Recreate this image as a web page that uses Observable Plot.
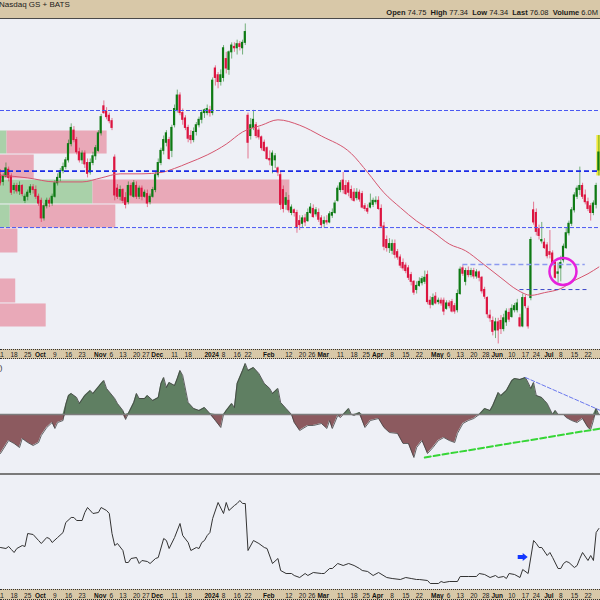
<!DOCTYPE html>
<html>
<head>
<meta charset="utf-8">
<script src="https://cdn.jsdelivr.net/npm/d3@7"></script>
<script src="https://cdn.jsdelivr.net/npm/@observablehq/plot@0.6"></script>
<style>
  html, body { margin:0; padding:0; }
  body { width:600px; height:600px; overflow:hidden; background:#eef0f6; font-family:"Liberation Sans", Arial, sans-serif; }
  #hdr { position:relative; height:18px; background:#d8c8a8; border-bottom:1px solid #4a4a4a; font-size:8px; color:#1a1a1a; overflow:hidden; }
  #hdr .l { position:absolute; left:-1px; top:0px; white-space:nowrap; }
  #hdr .r { position:absolute; right:2px; top:8px; white-space:nowrap; font-size:7.5px; }
  #hdr b { font-weight:bold; }
  .strip { background:#d8c8a8; border-top:1px dotted #333; border-bottom:1px dotted #333; overflow:hidden; }
  #axis1 { height:8px; }
  #axis2 { height:9px; }
  .sep { height:0; border-top:2px solid #7a7a7a; }
  svg { display:block; }
</style>
</head>
<body>
<div id="hdr"><span class="l">Nasdaq GS + BATS</span><span class="r" id="ohlc"></span></div>
<div id="price"></div>
<div class="strip" id="axis1"></div>
<div id="cmf"></div>
<div class="sep"></div>
<div id="bottom"></div>
<div class="strip" id="axis2"></div>
<script>
// ---------------- DATA ----------------
const exchange = "Nasdaq GS + BATS";
const lastVolume = "6.0M";
const startDate = "2023-09-11";
const endDate = "2024-07-26";
const holidays = ["2023-11-23","2023-12-25","2024-01-01","2024-01-15","2024-02-19","2024-03-29","2024-05-27","2024-06-19","2024-07-04"];
const monthNames = ["Jan","Feb","Mar","Apr","May","Jun","Jul","Aug","Sep","Oct","Nov","Dec"];

const opens = [74.4,73.9,74.3,74.8,74.3,73.3,73.6,73.2,73.6,72.5,72.8,73.1,73.5,73.3,72.8,72.5,71.2,72.1,72.5,72.3,
72.8,73.8,74.2,74.7,75.0,75.5,76.7,77.7,77.0,76.1,75.5,76.0,75.3,74.6,75.3,75.8,76.2,77.5,79.5,79.1,
78.8,78.4,75.7,73.4,72.8,73.3,72.7,72.4,73.6,72.8,73.6,72.8,73.4,72.8,73.0,72.4,72.8,73.3,74.4,75.3,
76.2,76.8,77.0,76.2,78.1,79.2,80.3,79.0,78.6,77.9,77.3,77.0,77.6,78.1,78.5,79.0,79.0,79.2,79.0,82.3,
81.8,81.3,81.6,83.0,82.2,83.5,83.9,83.8,84.1,83.8,84.2,78.8,77.3,77.9,78.1,77.7,77.2,76.8,76.4,75.6,
75.1,75.5,74.9,74.4,73.3,72.2,72.5,71.6,71.8,71.6,71.0,70.8,71.2,71.0,71.6,71.9,71.5,71.6,71.2,70.8,
71.0,70.9,71.4,71.6,72.5,73.3,74.0,73.6,73.8,73.3,73.1,72.7,73.1,73.0,72.1,71.9,72.0,72.2,72.4,72.5,
71.9,70.6,69.6,69.0,68.8,69.3,68.7,68.3,67.9,67.7,67.5,67.0,66.5,65.9,66.2,66.4,66.5,67.0,65.1,64.8,
65.4,65.0,65.1,65.1,64.5,64.9,65.0,64.7,64.4,65.6,67.5,66.5,67.3,67.0,67.3,66.9,67.2,66.8,65.9,65.3,
64.0,63.6,62.9,63.5,63.6,63.0,63.5,64.2,63.9,64.4,64.4,63.8,63.2,65.3,64.5,65.3,71.8,71.6,70.4,69.5,
69.4,69.2,68.7,68.6,67.9,67.1,67.5,68.1,69.0,70.1,70.8,71.8,72.8,73.3,73.6,72.9,72.4,72.1,71.6,72.2,
74.75];
const highs = [74.8,74.5,75.3,75.0,74.5,73.8,73.8,73.9,73.7,73.0,73.3,73.7,73.7,73.6,73.0,72.7,72.3,72.7,72.7,73.0,
74.0,74.5,74.9,75.3,75.7,77.0,78.2,78.0,77.2,76.4,76.2,76.2,75.6,75.6,76.1,76.6,77.7,78.9,79.9,79.4,
79.0,78.6,75.9,73.7,73.6,73.4,73.1,73.9,73.8,74.0,73.9,73.6,73.6,73.3,73.3,73.0,73.5,74.6,75.6,76.4,
77.3,77.7,77.2,78.1,79.6,80.7,80.5,79.3,78.8,78.1,77.7,77.9,78.3,78.7,79.2,79.3,79.6,79.5,81.6,82.5,
82.0,82.2,84.0,83.5,83.6,84.2,84.2,84.4,84.3,84.4,85.6,79.0,78.6,79.2,78.3,77.9,77.3,77.0,76.5,76.2,
76.2,76.0,75.0,74.6,73.6,73.1,72.9,72.2,71.9,71.8,71.4,71.4,71.5,71.9,72.3,72.2,72.0,71.9,71.4,71.3,
71.4,71.7,71.9,72.5,73.6,74.0,74.6,74.0,74.0,73.6,73.4,73.4,73.3,73.2,72.3,72.2,73.0,72.7,72.8,72.8,
72.2,70.9,69.9,69.7,69.6,69.6,68.9,68.5,68.2,67.9,67.7,67.2,66.6,66.5,66.8,66.9,67.3,67.3,65.4,65.6,
65.7,65.3,65.3,65.3,65.1,65.1,65.2,64.9,65.9,67.6,67.7,67.5,67.6,67.5,67.5,67.4,67.3,66.9,66.1,65.4,
64.4,63.9,63.8,63.8,64.0,64.1,64.5,64.5,64.8,64.9,65.2,64.1,65.6,65.5,64.7,69.8,72.4,71.9,70.7,70.9,
69.7,69.4,70.3,68.8,68.1,67.9,68.4,69.3,70.5,71.0,72.0,73.1,73.6,75.0,73.8,73.3,72.7,72.3,72.5,73.8,
77.34];
const lows = [73.6,73.6,74.2,73.9,72.9,73.0,73.0,72.9,72.8,72.3,72.5,72.9,73.0,72.6,72.1,70.9,71.0,71.9,72.0,72.1,
72.7,73.6,73.9,74.5,74.8,75.3,76.5,76.8,75.9,75.3,75.2,74.9,74.2,74.4,75.1,75.5,76.1,77.3,78.9,78.5,
78.2,77.7,72.5,72.6,72.5,72.3,71.9,72.2,72.8,72.7,72.6,72.6,72.5,72.7,72.0,72.2,72.7,73.1,74.2,75.1,
75.9,76.5,75.5,75.7,77.9,79.0,78.8,78.1,77.7,76.8,76.7,76.8,77.3,77.9,78.2,78.6,78.8,78.7,78.8,81.0,
80.8,81.0,81.3,81.9,81.8,83.0,83.5,83.3,83.6,83.3,84.0,75.6,77.0,77.7,77.1,77.0,76.2,76.1,75.5,75.1,
74.5,74.9,74.3,71.8,71.6,71.8,71.6,71.4,71.3,70.1,70.3,70.5,70.6,70.9,71.5,71.2,71.3,70.9,70.5,70.5,
70.7,70.8,71.2,71.5,72.4,73.1,73.0,72.9,72.8,72.5,72.4,72.5,72.4,71.9,71.7,71.5,71.9,72.0,72.2,71.8,
70.5,68.8,68.7,68.6,68.5,68.2,68.1,67.5,67.3,67.1,66.6,66.2,65.5,65.6,66.1,66.2,66.3,64.8,64.5,64.7,
64.8,64.8,64.7,64.0,64.4,64.5,64.2,64.1,64.2,65.5,66.9,66.2,66.8,66.8,66.7,66.7,66.5,65.6,65.2,63.8,
63.5,62.5,62.3,61.9,62.6,62.8,63.2,63.5,63.8,64.2,64.2,63.1,63.1,64.5,63.0,65.1,70.7,69.9,69.6,69.3,
68.9,68.2,68.2,67.7,66.7,66.4,66.5,67.9,68.9,69.9,70.6,71.6,72.6,72.9,72.6,72.2,71.7,71.0,71.4,71.9,
74.34];
const closes = [73.8,74.3,74.9,74.2,73.1,73.6,73.2,73.6,73.0,72.8,73.1,73.5,73.3,72.8,72.3,71.2,72.1,72.5,72.3,72.8,
73.8,74.2,74.7,75.0,75.5,76.7,77.9,77.0,76.1,75.5,76.0,75.2,74.5,75.3,75.8,76.4,77.5,78.7,79.0,78.7,
78.4,77.9,72.9,72.8,73.3,72.5,72.2,73.6,72.9,73.8,72.8,73.4,72.8,73.1,72.3,72.8,73.3,74.4,75.3,76.2,
77.0,77.5,75.6,77.9,79.3,80.3,79.0,78.5,77.9,77.1,77.0,77.6,78.1,78.5,79.0,79.2,79.3,79.0,81.4,81.6,
81.3,81.8,83.8,82.3,83.5,84.0,83.8,84.1,83.9,84.2,85.0,76.8,78.1,78.5,77.3,77.2,76.4,76.2,75.6,75.5,
76.0,75.8,74.6,72.2,71.9,72.7,71.8,72.0,71.6,70.5,70.7,71.2,70.9,71.6,72.0,71.3,71.8,71.1,70.7,71.0,
70.9,71.5,71.6,72.3,73.4,73.8,73.3,73.0,73.1,72.7,72.5,73.1,72.6,72.0,71.9,71.7,72.3,72.5,72.5,71.9,
70.6,69.1,69.0,69.3,69.3,68.5,68.3,67.7,67.5,67.3,66.8,66.5,65.7,66.2,66.5,66.7,66.8,65.0,64.8,65.3,
64.9,65.1,64.9,64.3,64.9,64.7,64.3,64.3,65.6,67.4,67.1,67.3,67.0,67.3,66.9,67.2,66.8,65.8,65.4,64.1,
63.8,62.8,63.5,62.9,63.0,63.8,64.3,63.7,64.5,64.7,64.9,63.2,65.3,64.7,63.2,69.6,70.9,70.2,69.9,69.6,
69.0,68.4,68.5,67.9,66.8,67.2,67.9,69.1,70.1,70.8,71.8,72.9,73.4,73.6,72.8,72.4,71.9,71.6,72.3,73.6,
76.08];

// moving average (sampled trading-day index / value)
const maIdx = [0,10,20,30,37,44,52,59,64,69,76,83,89,96,102,110,118,129,135,141,147,153,159,165,171,177,184,190,195,200,206,211,216,220];
const maVal = [74.4,74.2,73.9,73.9,74.2,74.5,74.5,74.6,74.9,75.3,75.9,76.7,77.6,78.1,78.5,78.1,77.3,76.0,74.6,73.1,72.0,71.0,70.2,69.3,68.8,67.9,66.8,65.9,65.5,65.7,66.0,66.6,67.1,67.6];

// volume-by-price zones
const vbpLow  = [63.12,64.90,66.75,68.60,70.45,72.23,74.08,75.93,77.71];
const vbpHigh = [64.90,66.75,68.60,70.45,72.23,74.08,75.93,77.71,79.56];
const vbpUp   = [46,28,22,28,59,135,37,56,20];
const vbpDown = [46,36,24,38,97,181,44,92,25];

// annotation levels
const levelPrice = [79.19,74.70,70.52,67.78,65.93];
const levelFrom  = [0,0,0,170,191];
const levelTo    = [220.6,220.6,220.6,215,216];
const circleAt   = {i: 206.8, p: 67.27};

// money-flow style oscillator
const cmfIdx = [0,3,5,7,8,10,12,14,15,17,19,20,21,23,24,25,26,28,29,31,33,34,37,38,39,42,43,45,46,47,49,50,51,53,54,56,58,59,60,61,62,64,65,66,67,69,71,73,75,77,79,81,82,83,85,86,87,89,90,91,93,95,97,99,100,102,103,105,107,108,110,113,115,118,120,121,122,124,125,126,128,129,130,132,133,134,136,139,141,143,146,148,150,152,153,155,157,159,161,163,165,167,168,170,172,174,176,178,180,181,183,184,186,188,189,191,193,194,195,196,197,199,200,201,203,204,205,207,208,210,212,214,216,217,218,219,220];
const cmfVal = [-0.195,-0.13,-0.145,-0.165,-0.12,-0.14,-0.155,-0.14,-0.105,-0.065,-0.04,-0.07,-0.04,-0.03,0.05,0.095,0.105,0.085,0.055,0.095,0.12,0.105,0.155,0.17,0.13,0.08,0.055,0.02,-0.025,0.005,0.06,0.105,0.08,0.08,0.095,0.07,0.085,0.155,0.185,0.135,0.16,0.145,0.18,0.22,0.195,0.06,0.03,0.02,0.035,0.005,-0.03,-0.065,0,0.02,0.055,0.035,0.155,0.22,0.255,0.22,0.235,0.205,0.155,0.13,0.105,0.13,0.06,0.03,0,-0.04,-0.08,-0.055,-0.055,-0.045,-0.07,-0.03,-0.07,-0.005,-0.015,0,0.03,0,-0.005,0.01,-0.03,-0.065,-0.03,-0.02,-0.065,-0.09,-0.095,-0.145,-0.145,-0.215,-0.165,-0.13,-0.195,-0.165,-0.13,-0.115,-0.13,-0.14,-0.095,-0.045,-0.03,-0.02,0,0.03,0.02,0.045,0.11,0.095,0.12,0.17,0.18,0.175,0.185,0.16,0.13,0.16,0.095,0.085,0.07,0.055,0,0.02,0,0,-0.015,-0.03,-0.04,-0.02,-0.065,-0.075,-0.03,0.03,0];
const cmfDownTrend = {i: [193,220.6], v: [0.185,0.02]};
const cmfUpTrend   = {i: [156,220.6], v: [-0.215,-0.07]};

// lower line indicator
const botIdx = [0,2,3,4,5,6,8,9,10,12,14,15,17,18,19,21,23,24,26,27,28,30,31,32,34,36,37,39,40,41,42,43,45,46,47,48,50,51,52,54,55,57,58,60,61,62,64,66,67,69,70,72,73,74,75,76,77,78,80,82,83,84,86,87,88,89,90,91,93,95,97,98,100,102,103,105,107,108,110,112,113,115,118,119,121,122,124,126,128,130,132,133,135,137,139,142,144,147,149,151,153,154,157,158,161,162,163,165,168,169,172,175,176,178,180,182,183,185,186,187,189,191,192,194,196,197,198,199,201,202,203,205,206,207,208,209,211,212,213,214,216,217,218,219,220];
const botVal = [0.82,0.80,0.84,0.78,0.72,0.80,0.86,0.84,1.10,1.08,0.96,0.90,1.02,1.00,0.92,1.02,1.12,1.32,1.42,1.42,1.36,1.36,1.52,1.62,1.50,1.52,1.62,1.56,1.50,1.10,0.86,0.90,0.76,0.52,0.52,0.60,0.62,0.50,0.56,0.54,0.50,0.60,0.62,1.00,0.96,0.80,1.02,1.30,1.06,0.92,0.76,0.82,0.80,0.92,0.96,1.06,1.12,1.40,1.72,1.50,1.72,1.56,1.66,1.70,1.76,1.70,1.70,0.76,0.96,0.90,0.82,0.80,0.50,0.60,0.36,0.30,0.30,0.26,0.22,0.30,0.26,0.32,0.30,0.30,0.40,0.40,0.50,0.46,0.50,0.46,0.40,0.36,0.34,0.26,0.32,0.22,0.20,0.18,0.22,0.20,0.18,0.18,0.16,0.10,0.10,0.14,0.12,0.14,0.14,0.24,0.24,0.24,0.30,0.28,0.22,0.26,0.22,0.24,0.20,0.30,0.28,0.22,0.38,0.30,0.96,0.90,0.82,0.82,0.66,0.72,0.62,0.40,0.40,0.50,0.54,0.52,0.42,0.46,0.60,0.72,0.56,0.66,0.56,1.12,1.20];
const arrowAt = {i: 192, v: 0.63};

// ---------------- BUILD ----------------
const UP = "#0e7a14", DOWN = "#dc1440";
const FONT = "Liberation Sans, Arial, sans-serif";
const xDomain = [0, 220.6];

// trading calendar
const dates = [];
for (let d = new Date(startDate + "T12:00:00Z"); d <= new Date(endDate + "T12:00:00Z"); d.setUTCDate(d.getUTCDate() + 1)) {
  const wd = d.getUTCDay(), s = d.toISOString().slice(0, 10);
  if (wd === 0 || wd === 6 || holidays.includes(s)) continue;
  dates.push(new Date(d));
}
// month label positions first
const monthTicks = [];
dates.forEach((d, i) => {
  if (i > 0 && d.getUTCMonth() !== dates[i - 1].getUTCMonth())
    monthTicks.push({i, label: d.getUTCMonth() === 0 ? String(d.getUTCFullYear()) : monthNames[d.getUTCMonth()], bold: true, dx: -1});
});
const dayTicks = [];
dates.forEach((d, i) => {
  const newWeek = i === 0 || d.getUTCDay() < dates[i - 1].getUTCDay();
  if (!newWeek || monthTicks.some(m => m.i === i)) return;
  const prevM = monthTicks.filter(m => m.i < i).at(-1);
  const nextM = monthTicks.find(m => m.i > i);
  if (prevM && i - prevM.i < 3) return;
  if (nextM) {
    const gap = nextM.i - i;
    if (gap <= 3 || (gap <= 4 && nextM.label.length === 4)) return;
  }
  let dx = 0;
  if (prevM && i - prevM.i === 3) dx = 2;
  if (nextM && nextM.i - i === 4) dx = -1.5;
  dayTicks.push({i, label: String(d.getUTCDate()), bold: false, dx});
});
const ticks = [...monthTicks, ...dayTicks];

document.getElementById("ohlc").innerHTML =
  `<b>Open</b> ${opens.at(-1).toFixed(2)} &nbsp;<b>High</b> ${highs.at(-1).toFixed(2)} &nbsp;<b>Low</b> ${lows.at(-1).toFixed(2)} &nbsp;<b>Last</b> ${closes.at(-1).toFixed(2)} &nbsp;<b>Volume</b> ${lastVolume}`;
document.querySelector("#hdr .l").textContent = exchange;

const candles = opens.map((o, i) => ({i, o, h: highs[i], l: lows[i], c: closes[i]}));
const upC = candles.filter(d => d.c >= d.o);
const dnC = candles.filter(d => d.c < d.o);
const ma = maIdx.map((i, k) => ({i, v: maVal[k]}));
const vbpStart = -20, vbpScale = 0.4;
const vbp = vbpLow.map((lo, k) => ({lo, hi: vbpHigh[k], up: vbpUp[k], dn: vbpDown[k]}));
const levels = levelPrice.map((p, k) => ({p, a: levelFrom[k], b: levelTo[k]}));

const priceChart = Plot.plot({
  width: 600, height: 330, margin: 0,
  x: {domain: xDomain, axis: null},
  y: {domain: [61.49, 85.93], axis: null},
  style: {background: "#eef0f6"},
  marks: [
    Plot.rect(vbp, {x1: () => vbpStart, x2: d => vbpStart + d.up * vbpScale, y1: "lo", y2: "hi", fill: "#a9d1a9", insetTop: 0.5, insetBottom: 0.5, clip: true}),
    Plot.rect(vbp, {x1: d => vbpStart + d.up * vbpScale, x2: d => vbpStart + (d.up + d.dn) * vbpScale, y1: "lo", y2: "hi", fill: "#e9a9b8", insetTop: 0.5, insetBottom: 0.5, clip: true}),
    Plot.ruleX([candles.at(-1)], {x: "i", y1: "l", y2: "h", stroke: "#f1e83a", strokeWidth: 5}),
    Plot.ruleX(upC, {x: "i", y1: "l", y2: "h", stroke: UP, strokeOpacity: 0.55, clip: true}),
    Plot.ruleX(dnC, {x: "i", y1: "l", y2: "h", stroke: DOWN, strokeOpacity: 0.55, clip: true}),
    Plot.rect(upC, {x1: d => d.i - 0.4, x2: d => d.i + 0.4, y1: "o", y2: "c", fill: UP, insetTop: -0.5, insetBottom: -0.5, clip: true}),
    Plot.rect(dnC, {x1: d => d.i - 0.4, x2: d => d.i + 0.4, y1: "o", y2: "c", fill: DOWN, insetTop: -0.5, insetBottom: -0.5, clip: true}),
    Plot.line(ma, {x: "i", y: "v", stroke: "#d5566f", strokeWidth: 1, curve: "monotone-x"}),
    Plot.ruleY([levels[0], levels[2]], {y: "p", x1: "a", x2: "b", stroke: "#4a58f2", strokeWidth: 1, strokeDasharray: "4,2"}),
    Plot.ruleY([levels[1]], {y: "p", x1: "a", x2: "b", stroke: "#1b2be6", strokeWidth: 1.8, strokeDasharray: "5,3"}),
    Plot.ruleY([levels[3]], {y: "p", x1: "a", x2: "b", stroke: "#8d9af0", strokeWidth: 1.6, strokeDasharray: "5,3"}),
    Plot.ruleY([levels[4]], {y: "p", x1: "a", x2: "b", stroke: "#3a46c8", strokeWidth: 1, strokeDasharray: "4,3"}),
    Plot.dot([circleAt], {x: "i", y: "p", r: 13.5, stroke: "#e620dc", strokeWidth: 2.5, fill: "none"})
  ]
});
document.getElementById("price").append(priceChart);

function axisStrip(h) {
  const dxGroups = [...new Set(ticks.map(t => t.dx))];
  const marks = [];
  for (const dx of dxGroups) {
    marks.push(Plot.text(ticks.filter(t => !t.bold && t.dx === dx), {x: "i", text: "label", frameAnchor: "middle", fontSize: 6.5, fontFamily: FONT, fill: "#222", dx, dy: 0.5}));
    marks.push(Plot.text(ticks.filter(t => t.bold && t.dx === dx), {x: "i", text: "label", frameAnchor: "middle", fontSize: 6.5, fontWeight: "bold", fontFamily: FONT, fill: "#111", dx, dy: 0.5}));
  }
  return Plot.plot({
    width: 600, height: h, margin: 0,
    x: {domain: xDomain, axis: null},
    style: {background: "transparent"},
    marks
  });
}
document.getElementById("axis1").append(axisStrip(8));

const cmf = cmfIdx.map((i, k) => ({i, v: cmfVal[k]}));
const cmfChart = Plot.plot({
  width: 600, height: 114, margin: 0,
  x: {domain: xDomain, axis: null},
  y: {domain: [-0.295, 0.275], axis: null},
  style: {background: "#eef0f6"},
  marks: [
    Plot.areaY(cmf, {x: "i", y1: () => 0, y2: d => Math.max(0, d.v), fill: "#5f7f62"}),
    Plot.areaY(cmf, {x: "i", y1: () => 0, y2: d => Math.min(0, d.v), fill: "#8c5a5f"}),
    Plot.line(cmf, {x: "i", y: "v", stroke: "#3f3f3f", strokeWidth: 0.8}),
    Plot.ruleY([0], {stroke: "#7c7c7c", strokeWidth: 1.5}),
    Plot.line(cmfDownTrend.i.map((i, k) => ({i, v: cmfDownTrend.v[k]})), {x: "i", y: "v", stroke: "#6a78ee", strokeWidth: 1, strokeDasharray: "4,2"}),
    Plot.line(cmfUpTrend.i.map((i, k) => ({i, v: cmfUpTrend.v[k]})), {x: "i", y: "v", stroke: "#36d636", strokeWidth: 2, strokeDasharray: "6,3"}),
    Plot.text(["Chaikin Money Flow(20)"], {frameAnchor: "top-left", dx: 2, dy: 5, textAnchor: "end", fontSize: 8, fontFamily: FONT, fill: "#333"})
  ]
});
document.getElementById("cmf").append(cmfChart);

const arrowSymbol = {
  draw(ctx, size) {
    const s = Math.sqrt(size / Math.PI) / 5;
    ctx.moveTo(-5 * s, -2 * s); ctx.lineTo(0, -2 * s); ctx.lineTo(0, -4 * s);
    ctx.lineTo(5 * s, 0); ctx.lineTo(0, 4 * s); ctx.lineTo(0, 2 * s); ctx.lineTo(-5 * s, 2 * s); ctx.closePath();
  }
};
const bot = botIdx.map((i, k) => ({i, v: botVal[k]}));
const botChart = Plot.plot({
  width: 600, height: 114, margin: 0,
  x: {domain: xDomain, axis: null},
  y: {domain: [-0.02, 2.26], axis: null},
  style: {background: "#eef0f6"},
  marks: [
    Plot.line(bot, {x: "i", y: "v", stroke: "#333", strokeWidth: 1}),
    Plot.dot([arrowAt], {x: "i", y: "v", r: 5, symbol: arrowSymbol, fill: "#1236ff", stroke: "none"})
  ]
});
document.getElementById("bottom").append(botChart);
document.getElementById("axis2").append(axisStrip(9));
</script>
</body>
</html>
